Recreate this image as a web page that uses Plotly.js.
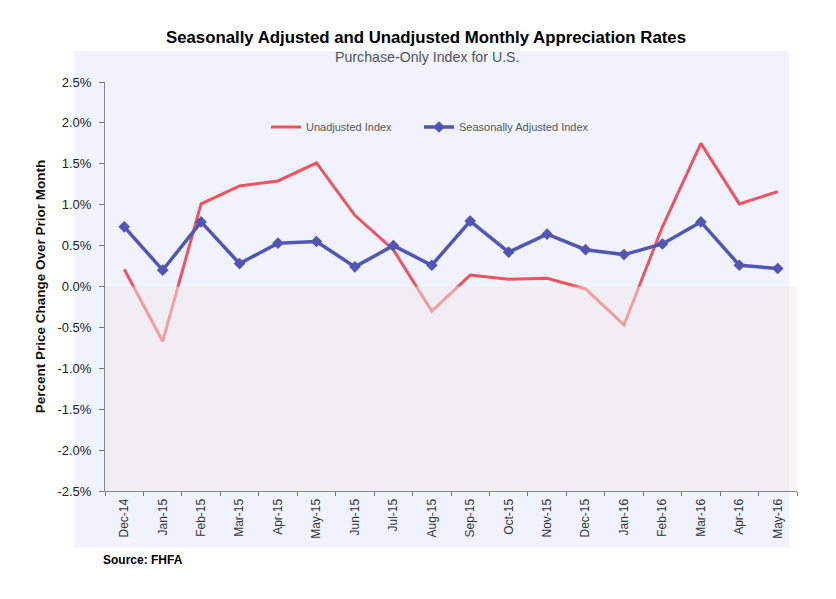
<!DOCTYPE html>
<html>
<head>
<meta charset="utf-8">
<script src="https://cdn.plot.ly/plotly-3.0.1.min.js"></script>
<style>html,body{margin:0;padding:0;background:#fff;}#chart{width:836px;height:599px;}</style>
</head>
<body>
<div id="chart"></div>
<script>
const months = ["Dec-14","Jan-15","Feb-15","Mar-15","Apr-15","May-15","Jun-15","Jul-15","Aug-15","Sep-15","Oct-15","Nov-15","Dec-15","Jan-16","Feb-16","Mar-16","Apr-16","May-16"];
const unadjusted = [0.21,-0.67,1.01,1.23,1.29,1.51,0.87,0.45,-0.30,0.14,0.09,0.10,-0.03,-0.47,0.73,1.75,1.01,1.16];
const seasonallyAdjusted = [0.73,0.20,0.79,0.28,0.53,0.55,0.24,0.50,0.26,0.80,0.42,0.64,0.45,0.39,0.52,0.79,0.26,0.22];
const yTicks = [-2.5,-2.0,-1.5,-1.0,-0.5,0.0,0.5,1.0,1.5,2.0,2.5];

const traces = [
  {x: months, y: unadjusted, name: "Unadjusted Index", type: "scatter", mode: "lines",
   line: {color: "rgb(240,82,96)", width: 3}, legend: "legend"},
  {x: months, y: seasonallyAdjusted, name: "Seasonally Adjusted Index", type: "scatter", mode: "lines+markers",
   line: {color: "rgb(82,86,178)", width: 3.5},
   marker: {symbol: "diamond", size: 9, color: "rgb(82,86,178)"}, legend: "legend2"}
];

const legendCommon = {orientation: "h", xanchor: "left", yanchor: "middle",
  bgcolor: "rgba(0,0,0,0)", font: {size: 11, color: "#555"}, itemwidth: 30};

const layout = {
  width: 836, height: 599,
  margin: {l: 105, r: 39, t: 82, b: 108},
  paper_bgcolor: "#ffffff",
  plot_bgcolor: "rgba(0,0,0,0)",
  font: {family: "Liberation Sans, Arial, sans-serif", color: "#333"},
  showlegend: true,
  legend: Object.assign({}, legendCommon, {x: (266 - 105) / 692, y: (491 - 127) / 409}),
  legend2: Object.assign({}, legendCommon, {x: (419 - 105) / 692, y: (491 - 127) / 409}),
  xaxis: {type: "category", range: [-0.5, 17.5], tickangle: -90, ticks: "outside", tickson: "boundaries",
          ticklen: 4, tickcolor: "#777", showline: true, linecolor: "#888", linewidth: 1,
          ticklabelstandoff: 2,
          showgrid: false, zeroline: false, tickfont: {size: 12, color: "#333"}},
  yaxis: {range: [-2.5, 2.5], tickvals: yTicks, ticktext: yTicks.map(v => v.toFixed(1) + "%"),
          ticks: "outside", ticklen: 5, tickcolor: "#777", showline: true, linecolor: "#888", linewidth: 1,
          ticklabelstandoff: 5,
          showgrid: false, zeroline: false, tickfont: {size: 13, color: "#222"},
          title: {text: "<b>Percent Price Change Over Prior Month</b>", font: {size: 13.5, color: "#111"}, standoff: 8}},
  shapes: [
    {type: "rect", xref: "paper", yref: "paper", x0: -0.0448, x1: 0.9884, y0: -0.139, y1: 1.076,
     fillcolor: "rgb(240,243,253)", line: {width: 0}, layer: "below"},
    {type: "rect", xref: "paper", yref: "y", x0: 0, x1: 1, y0: -2.5, y1: 0,
     fillcolor: "rgba(240,233,233,0.5)", line: {width: 0}, layer: "above"}
  ],
  annotations: [
    {text: "<b>Seasonally Adjusted and Unadjusted Monthly Appreciation Rates</b>", xref: "paper", yref: "paper",
     x: (426 - 105) / 692, y: (491 - 38) / 409, xanchor: "center", yanchor: "middle", showarrow: false,
     font: {size: 16.8, color: "#000", family: "Liberation Sans, Arial, sans-serif"}},
    {text: "Purchase-Only Index for U.S.", xref: "paper", yref: "paper",
     x: (427 - 105) / 692, y: (491 - 57) / 409, xanchor: "center", yanchor: "middle", showarrow: false,
     font: {size: 14.2, color: "#555"}},
    {text: "<b>Source: FHFA</b>", xref: "paper", yref: "paper",
     x: (101 - 105) / 692, y: (491 - 560) / 409, xanchor: "left", yanchor: "middle", showarrow: false,
     font: {size: 12, color: "#000", family: "Liberation Sans Narrow, Arial Narrow, sans-serif"}}
  ]
};

Plotly.newPlot("chart", traces, layout, {displayModeBar: false, staticPlot: true});
</script>
</body>
</html>
